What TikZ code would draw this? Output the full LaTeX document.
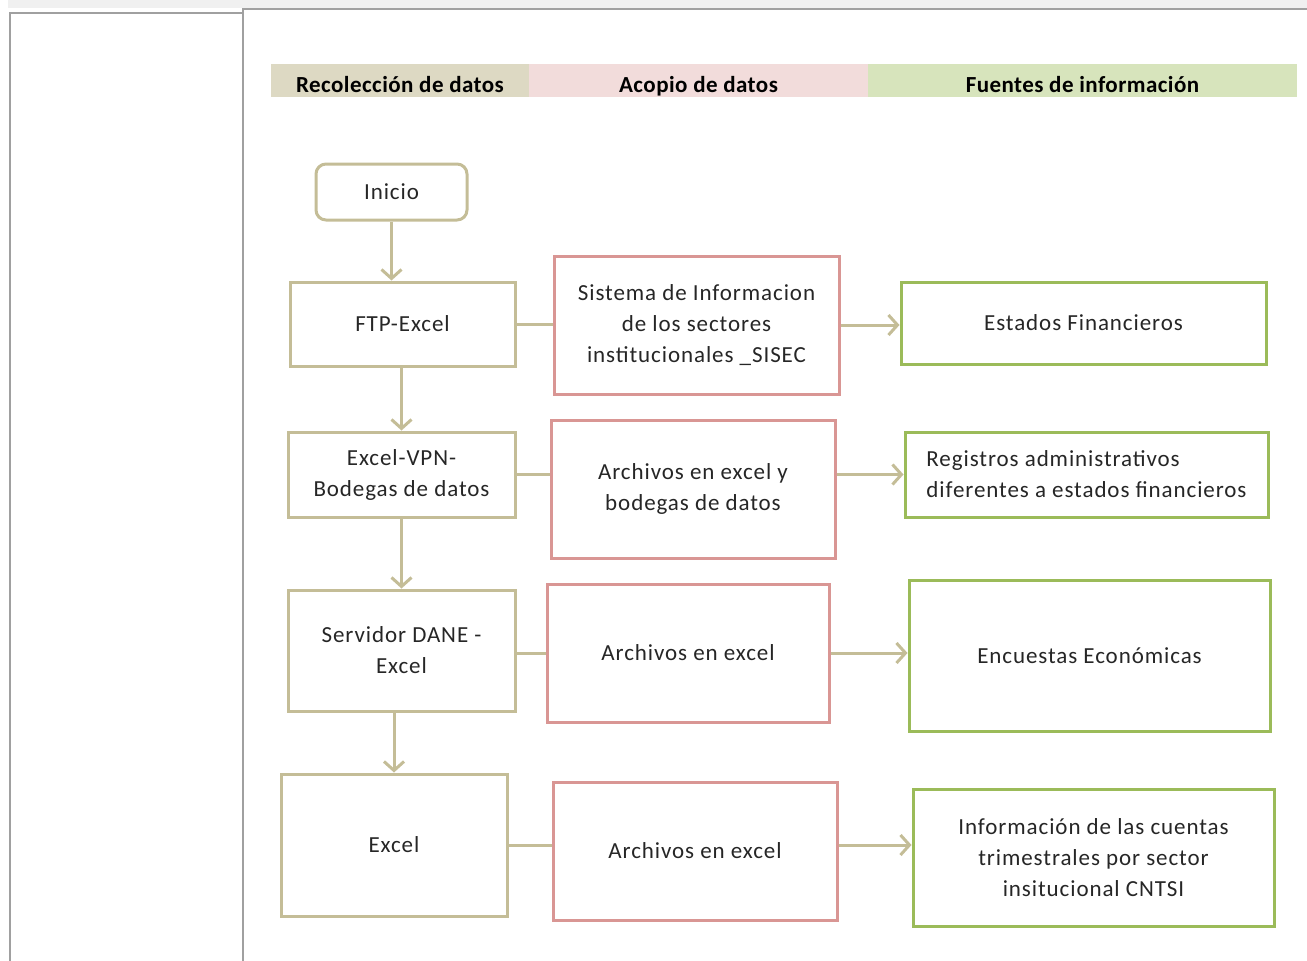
\documentclass[tikz,border=0pt]{standalone}
\usepackage{fontspec}
\setmainfont{Carlito}
\newfontfamily\boxfont[LetterSpace=4]{Carlito}
\newfontfamily\headfont[LetterSpace=2]{Carlito}
\usetikzlibrary{arrows.meta}
\definecolor{tanline}{HTML}{C4BD97}
\definecolor{pinkline}{HTML}{D99694}
\definecolor{greenline}{HTML}{9BBB59}
\definecolor{headtan}{HTML}{DDD9C3}
\definecolor{headpink}{HTML}{F2DCDB}
\definecolor{headgreen}{HTML}{D7E4BC}
\definecolor{framegray}{HTML}{A0A0A0}
\definecolor{textgray}{HTML}{262626}

\begin{document}
\begin{tikzpicture}
  [x=1pt,y=-1pt,auto=left]
      \tikzstyle{box_style} = [line width=3pt, text=textgray, align=center, inner sep=0pt, font=\boxfont\fontsize{23}{31}\selectfont]
      \tikzstyle{tan_box} = [box_style, draw=tanline]
      \tikzstyle{pink_box} = [box_style, draw=pinkline]
      \tikzstyle{green_box} = [box_style, draw=greenline]
      \tikzstyle{head_style} = [minimum height=33pt, inner sep=0pt, text height=23pt, text depth=0pt, text=black, font=\headfont\bfseries\fontsize{23}{26}\selectfont]
      \tikzstyle{edge_style} = [draw=tanline, line width=3pt]
      \tikzstyle{arrow_style} = [edge_style, -{Straight Barb[length=9pt,width=20pt]}]
  \useasboundingbox (0,0) rectangle (1307,961);
  % frame of the table
  \fill[black!6] (8,0) rectangle (1307,8);
  \draw[framegray, line width=2pt] (10,961) -- (10,13) -- (242,13);
  \draw[framegray, line width=2pt] (243,961) -- (243,9) -- (1307,9);
  % headers
  \node[head_style, fill=headtan, minimum width=258pt] (h1) at (400,80.5) {Recolección de datos};
  \node[head_style, fill=headpink, minimum width=339pt] (h2) at (698.5,80.5) {Acopio de datos};
  \node[head_style, fill=headgreen, minimum width=429pt] (h3) at (1082.5,80.5) {Fuentes de información};
  % recoleccion
  \node[tan_box, rounded corners=10pt, minimum width=151pt, minimum height=56pt] (r0) at (391.5,192) {Inicio};
  \node[tan_box, minimum width=225pt, minimum height=84pt] (r1) at (402.5,324) {FTP-Excel};
  \node[tan_box, minimum width=227pt, minimum height=85pt] (r2) at (401.5,474.5) {Excel-VPN-\\Bodegas de datos};
  \node[tan_box, minimum width=227pt, minimum height=121pt] (r3) at (401.5,650.5) {Servidor DANE -\\Excel};
  \node[tan_box, minimum width=226pt, minimum height=142pt] (r4) at (394,845) {Excel};
  % acopio
  \node[pink_box, minimum width=285pt, minimum height=138pt] (a1) at (696.5,325) {Sistema de Informacion\\de los sectores\\institucionales \_SISEC};
  \node[pink_box, minimum width=284pt, minimum height=138pt] (a2) at (693,489) {Archivos en excel y\\bodegas de datos};
  \node[pink_box, minimum width=282pt, minimum height=138pt] (a3) at (688,653) {Archivos en excel};
  \node[pink_box, minimum width=284pt, minimum height=138pt] (a4) at (695,851) {Archivos en excel};
  % fuentes
  \node[green_box, minimum width=365pt, minimum height=82pt] (f1) at (1083.5,323) {Estados Financieros};
  \node[green_box, align=left, minimum width=363pt, minimum height=85pt] (f2) at (1086.5,474.5) {Registros administrativos\\diferentes a estados financieros};
  \node[green_box, minimum width=361pt, minimum height=151pt] (f3) at (1089.5,655.5) {Encuestas Económicas};
  \node[green_box, minimum width=361pt, minimum height=137pt] (f4) at (1093.5,857.5) {Información de las cuentas\\trimestrales por sector\\insitucional CNTSI};
  % flujo vertical
  \draw[arrow_style] (r0) -- (r0 |- r1.north);
  \draw[arrow_style] (r1.south -| r2) -- (r2.north);
  \draw[arrow_style] (r2) -- (r2 |- r3.north);
  \draw[arrow_style] (r3.south -| r4) -- (r4.north);
  % conexiones horizontales
  \draw[edge_style] (r1) -- (r1 -| a1.west);
  \draw[arrow_style] (a1) -- (a1 -| f1.west);
  \draw[edge_style] (r2) -- (r2 -| a2.west);
  \draw[arrow_style] (f2 -| a2.east) -- (f2.west);
  \draw[edge_style] (a3 -| r3.east) -- (a3.west);
  \draw[arrow_style] (a3) -- (a3 -| f3.west);
  \draw[edge_style] (r4) -- (r4 -| a4.west);
  \draw[arrow_style] (r4 -| a4.east) -- (r4 -| f4.west);
\end{tikzpicture}
\end{document}
